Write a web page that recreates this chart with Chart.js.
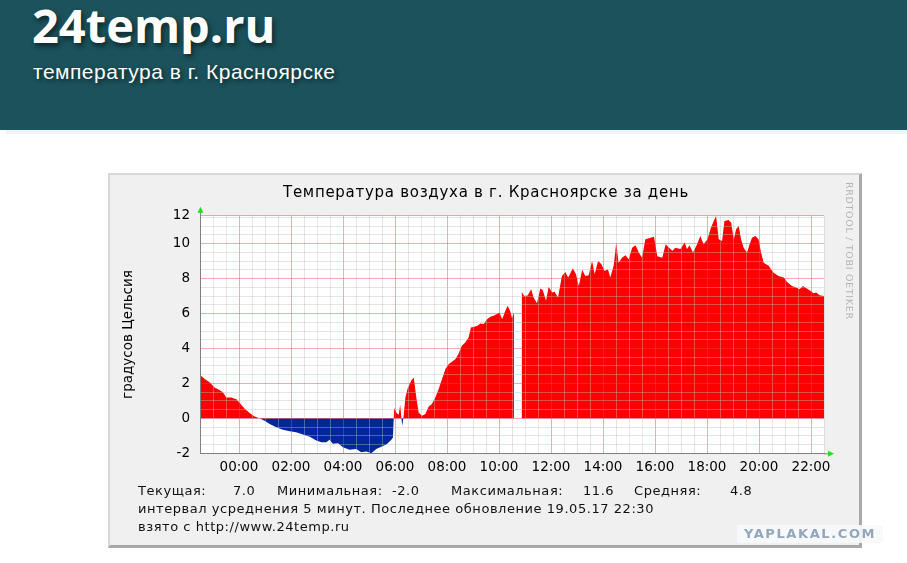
<!DOCTYPE html>
<html lang="ru">
<head>
<meta charset="UTF-8">
<title>24temp.ru - температура в г. Красноярске</title>
<script src="https://cdn.jsdelivr.net/npm/chart.js"></script>
<style>
  body { margin: 0; width: 907px; height: 563px; position: relative; overflow: hidden; background: #fff; font-family: "DejaVu Sans", sans-serif; }
  .top { position: absolute; left: 0; top: 0; width: 907px; height: 130px; background: #1b525b; }
  .top h1 { position: absolute; left: 32px; top: 2px; margin: 0; font: 700 47px/47px "Open Sans", sans-serif; color: #fff; text-shadow: 2px 3px 5px rgba(0,0,0,.55); }
  .top p { position: absolute; left: 33px; top: 61px; margin: 0; font: 21px/21px "Liberation Sans", Arial, sans-serif; letter-spacing: 0.5px; color: #fff; text-shadow: 2px 2px 4px rgba(0,0,0,.6); }
  .strip { position: absolute; left: 6px; top: 130px; width: 901px; height: 4px; background: #f1f2f4; }
  .frame { position: absolute; left: 108px; top: 173px; width: 754px; height: 375px; box-sizing: border-box; background: #f0f0f0;
           border-top: 2px solid #d8d8d8; border-left: 2px solid #d8d8d8; border-right: 3px solid #a8a8a8; border-bottom: 3px solid #a8a8a8; }
  #chart { position: absolute; left: 108px; top: 173px; }
  .ttl { position: absolute; left: 110px; width: 752px; top: 183px; text-align: center; font-size: 15px; line-height: 18px; letter-spacing: 0.72px; color: #000; }
  .leg { position: absolute; font-size: 13px; line-height: 16px; color: #111; white-space: pre; letter-spacing: 0.55px; }
  .rrd { position: absolute; left: 843px; top: 182px; font-size: 9.5px; line-height: 12px; color: #b4b4b4; letter-spacing: 0.7px;
         writing-mode: vertical-rl; white-space: nowrap; }
  .wm { position: absolute; left: 737px; top: 525px; width: 146px; height: 18px; background: rgba(246,248,250,.92);
        font: 700 13px/18px "DejaVu Sans", sans-serif; color: #93a6ba; letter-spacing: 1.6px; text-align: center; }
</style>
</head>
<body>
<div class="top">
  <h1>24temp.ru</h1>
  <p>температура в г. Красноярске</p>
</div>
<div class="strip"></div>
<div class="frame"></div>
<canvas id="chart" width="754" height="375"></canvas>
<div class="ttl">Температура воздуха в г. Красноярске за день</div>

<div class="leg" style="left:138px; top:483px;">Текущая:</div>
<div class="leg" style="left:233px; top:483px;">7.0</div>
<div class="leg" style="left:277px; top:483px;">Минимальная:</div>
<div class="leg" style="left:392px; top:483px;">-2.0</div>
<div class="leg" style="left:451px; top:483px;">Максимальная:</div>
<div class="leg" style="left:583px; top:483px;">11.6</div>
<div class="leg" style="left:634px; top:483px;">Средняя:</div>
<div class="leg" style="left:730px; top:483px;">4.8</div>
<div class="leg" style="left:138px; top:501px;">интервал усреднения 5 минут. Последнее обновление 19.05.17 22:30</div>
<div class="leg" style="left:138px; top:519px;">взято с http://www.24temp.ru</div>
<div class="rrd">RRDTOOL / TOBI OETIKER</div>
<div class="wm">YAPLAKAL.COM</div>

<script>
// hours relative to 00:00 of the day (the graph starts 22:30 the day before)
const xTickHours = [0, 2, 4, 6, 8, 10, 12, 14, 16, 18, 20, 22];
const xTickLabels = ['00:00', '02:00', '04:00', '06:00', '08:00', '10:00', '12:00', '14:00', '16:00', '18:00', '20:00', '22:00'];
const yTickValues = [-2, 0, 2, 4, 6, 8, 10, 11.6];
const yTickLabels = ['-2', '0', '2', '4', '6', '8', '10', '12'];

const hours = [
  -1.5, -1.32, -1.13, -0.94, -0.75, -0.62, -0.49, -0.3, -0.1, 0.02, 0.22, 0.41, 0.6, 0.79,
  0.98, 1.18, 1.43, 1.69, 1.95, 2.2, 2.46, 2.72, 2.97, 3.17, 3.36, 3.48, 3.61, 3.81,
  4.0, 4.25, 4.51, 4.7, 4.9, 5.09, 5.28, 5.47, 5.67, 5.86, 5.92, 5.97, 6.06, 6.14,
  6.2, 6.24, 6.28, 6.33, 6.4, 6.48, 6.62, 6.72, 6.82, 6.91, 7.04, 7.17, 7.29, 7.42,
  7.55, 7.68, 7.81, 7.94, 8.06, 8.19, 8.32, 8.44, 8.57, 8.7, 8.83, 8.92, 9.05, 9.18,
  9.28, 9.41, 9.54, 9.67, 9.79, 9.92, 10.02, 10.12, 10.24, 10.33, 10.43, 10.5, 10.58,
  10.7,
  10.87, 10.97, 11.1, 11.24, 11.33, 11.46, 11.59, 11.68, 11.81, 11.91, 12.04, 12.14,
  12.27, 12.42, 12.55, 12.66, 12.84, 12.96, 13.07, 13.2, 13.32, 13.45, 13.58, 13.68,
  13.81, 13.94, 14.06, 14.19, 14.28, 14.41, 14.51, 14.6, 14.73, 14.86, 14.99, 15.12,
  15.25, 15.38, 15.5, 15.63, 15.83, 15.96, 16.09, 16.28, 16.41, 16.54, 16.67, 16.78,
  16.98, 17.14, 17.23, 17.33, 17.46, 17.62, 17.74, 17.87, 18.02, 18.15, 18.26, 18.35,
  18.45, 18.58, 18.67, 18.83, 18.93, 19.03, 19.12, 19.22, 19.31, 19.41, 19.54, 19.64,
  19.73, 19.86, 19.98, 20.08, 20.18, 20.37, 20.56, 20.75, 20.95, 21.1, 21.27, 21.43,
  21.56, 21.69, 21.84, 21.97, 22.1, 22.2, 22.33, 22.5
];
const temps = [
  2.5, 2.25, 2.06, 1.77, 1.62, 1.49, 1.2, 1.2, 1.1, 0.9, 0.55, 0.3, 0.1, 0,
  -0.13, -0.32, -0.51, -0.65, -0.74, -0.8, -0.93, -1.05, -1.27, -1.37, -1.37, -1.23, -1.46, -1.43,
  -1.66, -1.8, -1.75, -1.94, -1.89, -2.0, -1.75, -1.62, -1.5, -1.23, -1.1, 0.6, 0.3, 0.2,
  0.78, 0.1, -0.42, 0.1, 1.2, 1.68, 2.15, 2.34, 1.2, 0.34, 0.15, 0.25, 0.67, 0.82,
  1.2, 1.68, 2.25, 2.82, 3.1, 3.24, 3.39, 3.68, 4.15, 4.34, 4.63, 5.2, 5.24, 5.3,
  5.43, 5.4, 5.68, 5.81, 5.87, 5.97, 6.06, 5.68, 6.15, 6.44, 6.15, 5.75, 6.06,
  null,
  7.24, 7.01, 7.03, 7.39, 6.92, 6.59, 7.43, 7.35, 6.73, 7.54, 7.2, 7.24,
  6.92, 8.15, 8.38, 8.06, 8.59, 8.25, 7.58, 8.5, 8.15, 8.19, 9.01, 8.25,
  9.01, 8.82, 8.44, 8.53, 8.06, 8.73, 10.06, 8.91, 9.2, 9.34, 9.11, 9.77,
  9.91, 9.49, 9.2, 10.25, 10.34, 10.4, 9.28, 9.2, 9.97, 9.77, 9.6, 9.77,
  9.7, 10.06, 9.7, 9.91, 9.49, 9.97, 10.44, 9.97, 10.25, 10.91, 11.3, 11.6,
  10.25, 10.15, 11.3, 11.35, 11.2, 10.25, 10.82, 11.01, 10.25, 9.77, 9.49, 9.97,
  10.34, 10.44, 10.25, 9.49, 8.91, 8.73, 8.34, 8.15, 8.06, 7.77, 7.58, 7.49,
  7.39, 7.58, 7.43, 7.3, 7.16, 7.2, 7.05, 7.0
];

const MAJOR = 'rgba(235, 60, 80, 0.45)';
const MINOR = 'rgba(190, 190, 190, 0.4)';
const AXIS = '#808080';
const tickFont = { family: 'DejaVu Sans', size: 13.5 };

// white plot area + green arrows at the axis ends, like rrdtool
const rrdLook = {
  id: 'rrdLook',
  beforeDraw(chart) {
    const { ctx, chartArea: a } = chart;
    ctx.save();
    ctx.fillStyle = '#fff';
    ctx.fillRect(a.left, a.top, a.right - a.left, a.bottom - a.top);
    ctx.restore();
  },
  afterDraw(chart) {
    const { ctx, chartArea: a } = chart;
    ctx.save();
    ctx.strokeStyle = AXIS;
    ctx.lineWidth = 1;
    ctx.beginPath();
    ctx.moveTo(a.left + 0.5, a.top);
    ctx.lineTo(a.left + 0.5, a.top - 4);
    ctx.moveTo(a.right, a.bottom + 0.5);
    ctx.lineTo(a.right + 4, a.bottom + 0.5);
    ctx.stroke();
    ctx.fillStyle = '#22dd22';
    ctx.beginPath();
    ctx.moveTo(a.left + 0.5, a.top - 9);
    ctx.lineTo(a.left - 2.5, a.top - 3);
    ctx.lineTo(a.left + 3.5, a.top - 3);
    ctx.closePath();
    ctx.fill();
    ctx.beginPath();
    ctx.moveTo(a.right + 10, a.bottom + 0.5);
    ctx.lineTo(a.right + 4, a.bottom - 2.5);
    ctx.lineTo(a.right + 4, a.bottom + 3.5);
    ctx.closePath();
    ctx.fill();
    ctx.restore();
  }
};

new Chart(document.getElementById('chart'), {
  type: 'line',
  data: {
    datasets: [{
      label: 'Температура',
      data: hours.map((h, i) => ({ x: h, y: temps[i] })),
      fill: { target: 'origin', above: '#ff0000', below: '#00279a' },
      borderColor: 'rgba(0,0,0,0)',
      borderWidth: 1,
      pointRadius: 0,
      tension: 0,
      spanGaps: false
    }]
  },
  options: {
    responsive: false,
    animation: false,
    events: [],
    layout: { padding: { left: 0, right: 38, top: 42.7, bottom: 64.7 } },
    plugins: {
      legend: { display: false },
      tooltip: { enabled: false },
      title: { display: false }
    },
    scales: {
      x: {
        type: 'linear',
        min: -1.5,
        max: 22.5,
        afterBuildTicks(scale) {
          const t = [];
          for (let v = -1.5; v <= 22.5; v += 0.5) t.push({ value: v });
          scale.ticks = t;
        },
        afterFit(scale) { scale.height = 30; },
        ticks: {
          autoSkip: false,
          maxRotation: 0,
          padding: 6,
          color: '#000',
          font: tickFont,
          callback: (v) => {
            const i = xTickHours.indexOf(v);
            return i < 0 ? '' : xTickLabels[i];
          }
        },
        grid: {
          z: 1,
          drawTicks: false,
          color: (c) => xTickHours.includes(c.tick.value) ? MAJOR : MINOR
        },
        border: { color: AXIS, z: 2 }
      },
      y: {
        min: -2,
        max: 11.6,
        afterBuildTicks(scale) {
          const t = [];
          for (let v = -2; v <= 11.5; v += 0.5) t.push({ value: v });
          t.push({ value: 11.6 });
          scale.ticks = t;
        },
        afterFit(scale) { scale.width = 92; },
        ticks: {
          autoSkip: false,
          padding: 10,
          color: '#000',
          font: tickFont,
          callback: (v) => {
            const i = yTickValues.indexOf(v);
            return i < 0 ? '' : yTickLabels[i];
          }
        },
        grid: {
          z: 1,
          drawTicks: false,
          color: (c) => yTickValues.includes(c.tick.value) ? MAJOR : MINOR
        },
        border: { color: AXIS, z: 2 },
        title: {
          display: true,
          text: 'градусов Цельсия',
          color: '#000',
          font: { family: 'DejaVu Sans', size: 13.5 },
          padding: { top: 12, bottom: 0 }
        }
      }
    }
  },
  plugins: [rrdLook]
});
</script>
</body>
</html>
